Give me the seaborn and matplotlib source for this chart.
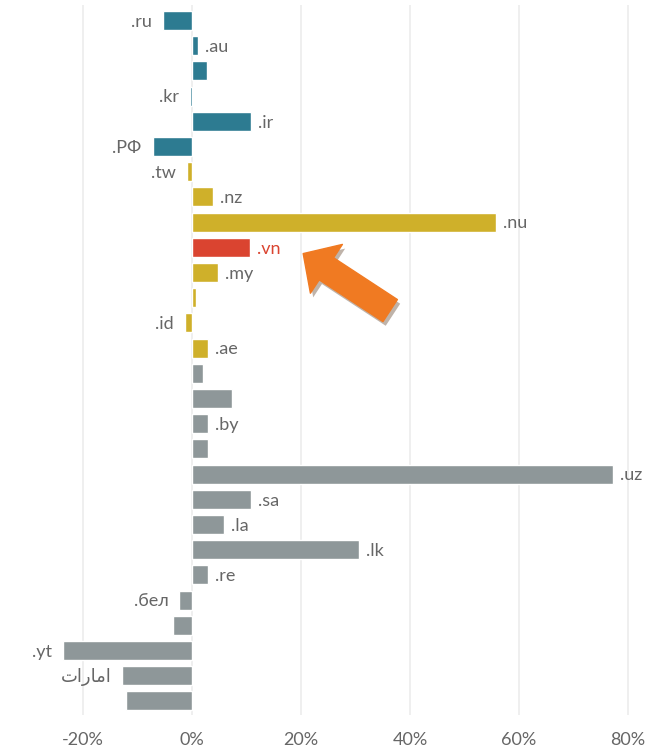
import matplotlib
matplotlib.use("Agg")
import matplotlib.pyplot as plt
import matplotlib.patheffects as pe
import seaborn as sns
import pandas as pd

# ---- data ----
labels = [".ru", ".au", "", ".kr", ".ir", ".РФ",
          ".tw", ".nz", ".nu", ".vn", ".my", "", ".id", ".ae",
          "", "", ".by", "", ".uz", ".sa", ".la", ".lk", ".re", ".бел", "",
          ".yt", "امارات", ""]
values = [-5.3, 1.1, 2.8, -0.3, 10.8, -7.2,
          -1.0, 3.8, 55.8, 10.6, 4.7, 0.7, -1.3, 2.9,
          2.0, 7.3, 2.9, 2.9, 77.2, 10.8, 5.8, 30.6, 2.9, -2.3, -3.4,
          -23.7, -12.8, -12.1]
groups = (["A"] * 6 + ["B"] * 3 + ["HL"] + ["B"] * 4 + ["C"] * 14)
xticks = [-20, 0, 20, 40, 60, 80]
xtick_labels = ["-20%", "0%", "20%", "40%", "60%", "80%"]

palette = {"A": "#2D7B91", "B": "#CFB02A", "HL": "#DA4430", "C": "#8E9799"}

# arabic label needs visual-order presentation forms (no shaping in matplotlib)
display = {"امارات": "\ufe95\ufe8d\ufead\ufe8e\ufee3\ufe8d"}

ids = [f"{i:02d}{l}" for i, l in enumerate(labels)]
df = pd.DataFrame({"id": ids, "value": values, "group": groups})

sns.set_theme(style="white")
FAM = ["Lato", "DejaVu Sans"]
plt.rcParams["font.family"] = FAM

fig = plt.figure(figsize=(6.62, 7.51), dpi=100)
ax = fig.add_axes([0, 1 - 715 / 751, 1, 710 / 751])

sns.barplot(data=df, x="value", y="id", hue="group", palette=palette,
            order=ids, dodge=False, legend=False, width=0.75,
            saturation=1, ax=ax, orient="h")

x0 = -192 / 5.45
x1 = (662 - 192) / 5.45
ax.set_xlim(x0, x1)
ax.set_ylim(27.56, -0.615)
ax.set_xticks(xticks)
ax.set_xticklabels(xtick_labels, fontsize=13, color="#666666")
ax.tick_params(axis="x", length=0, pad=12)
ax.set_yticks([])
ax.set_xlabel("")
ax.set_ylabel("")
for s in ax.spines.values():
    s.set_visible(False)
ax.grid(axis="x", color="#ECECEC", linewidth=1.2)
ax.set_axisbelow(True)

# bar labels
for i, (lab, v, g) in enumerate(zip(labels, values, groups)):
    if not lab:
        continue
    txt = display.get(lab, lab)
    color = "#DA4430" if g == "HL" else "#666666"
    if v >= 0:
        ax.annotate(txt, (v, i), xytext=(5, -1), textcoords="offset points",
                    ha="left", va="center", fontsize=13, color=color,
                    family=FAM)
    else:
        ax.annotate(txt, (v, i), xytext=(-8, -1), textcoords="offset points",
                    ha="right", va="center", fontsize=13, color=color,
                    family=FAM)

# orange pointer arrow towards .vn
vn = labels.index(".vn")
ax.annotate("", xy=(20.4, vn + 0.25), xycoords="data",
            xytext=(87, -57), textcoords="offset pixels",
            arrowprops=dict(arrowstyle="simple,head_length=20,head_width=42,tail_width=19",
                            mutation_scale=1, color="#F07A22",
                            shrinkA=0, shrinkB=0,
                            path_effects=[pe.SimplePatchShadow(offset=(2, -3), alpha=0.35),
                                          pe.Normal()]))

fig.savefig("out.png", dpi=100)
